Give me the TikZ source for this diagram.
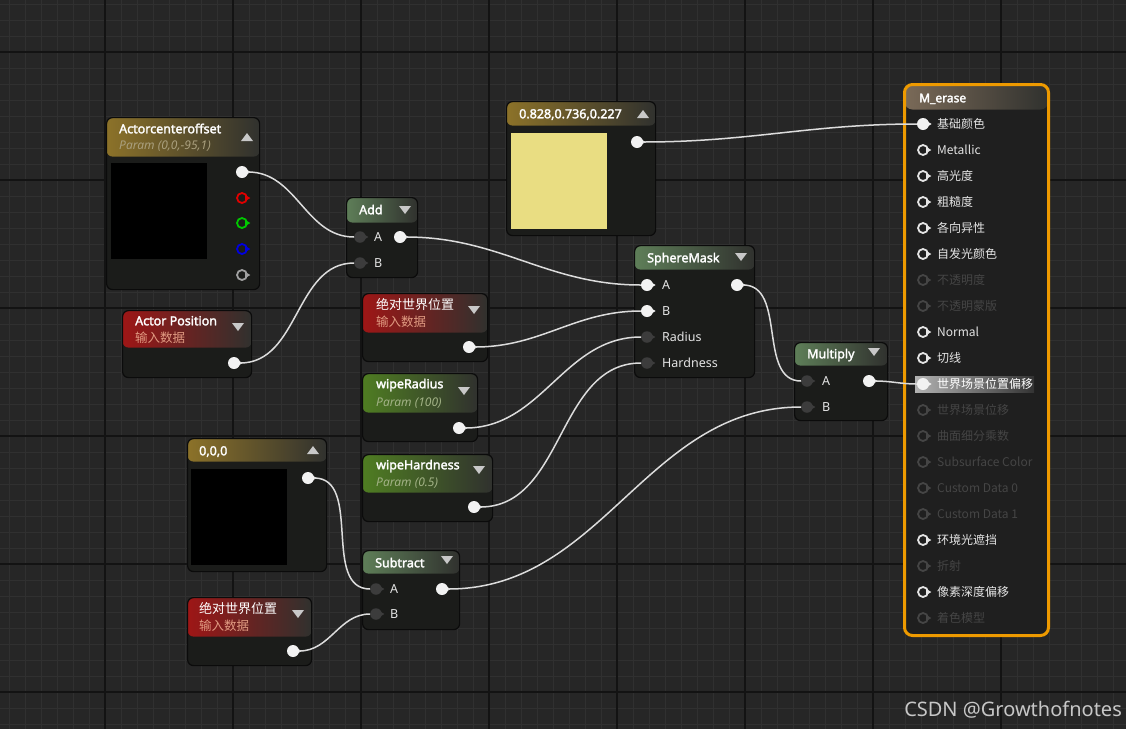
\documentclass[tikz,border=0pt]{standalone}
\usepackage{fontspec}
\setmainfont{Noto Sans}[BoldFont={Noto Sans}, BoldFeatures={FakeBold=2.2}]
\newfontfamily\cjk{Noto Sans CJK SC}
\usepackage{tikz}
\usetikzlibrary{shapes.geometric}

\definecolor{bgc}{HTML}{262626}
\definecolor{gridminor}{HTML}{303030}
\definecolor{gridmajor}{HTML}{131313}
\definecolor{nodebg}{HTML}{1B1C1A}
\definecolor{nodeedge}{HTML}{0B0B0B}
\definecolor{hddark}{HTML}{30312E}
\definecolor{hdgold}{HTML}{8C7229}
\definecolor{hdred}{HTML}{9E1616}
\definecolor{hdop}{HTML}{5E7E58}
\definecolor{hdpar}{HTML}{4F7D22}
\definecolor{hdmat}{HTML}{7A6A58}
\definecolor{goldsub}{HTML}{A99F7D}
\definecolor{redsub}{HTML}{E19B82}
\definecolor{greensub}{HTML}{A2B286}
\definecolor{swatchy}{HTML}{E9DD82}
\definecolor{pinwhite}{HTML}{F2F2F2}
\definecolor{pindark}{HTML}{3C3C3C}
\definecolor{pinred}{HTML}{E00000}
\definecolor{pingreen}{HTML}{00C800}
\definecolor{pinblue}{HTML}{0000E0}
\definecolor{pingrey}{HTML}{A0A0A0}
\definecolor{lbl}{HTML}{E4E4E4}
\definecolor{lbldim}{HTML}{454545}
\definecolor{matorange}{HTML}{EE9A00}
\definecolor{wirec}{HTML}{DCDCDC}
\definecolor{arrowc}{HTML}{C8C8C8}

\begin{document}
\begin{tikzpicture}[x=1pt,y=-1pt,
    minor/.style={draw=gridminor, line width=1pt},
    major/.style={draw=gridmajor, line width=2pt},
    body/.style={draw=nodeedge, fill=nodebg, line width=1.2pt, rounded corners=6pt, anchor=north west, inner sep=0pt},
    hdr/.style 2 args={path picture={\shade[left color=#1, right color=hddark]
        (path picture bounding box.north west) rectangle ([yshift=-#2]path picture bounding box.north east);}},
    swatch/.style={anchor=north west, inner sep=0pt, minimum width=96pt, minimum height=96pt},
    ttl/.style={anchor=west, inner sep=0pt, text height=8.5pt, text depth=0pt, text=white, font=\fontsize{12.5}{14}\selectfont\bfseries},
    ttlc/.style={ttl, font=\cjk\fontsize{13}{15}\selectfont},
    sub/.style={anchor=west, inner sep=0pt, text height=8.5pt, text depth=0pt, text=#1, font=\fontsize{12}{14}\selectfont\itshape},
    subc/.style={anchor=west, inner sep=0pt, text height=8.5pt, text depth=0pt, text=redsub, font=\cjk\fontsize{12.5}{14}\selectfont},
    pl/.style={anchor=west, inner sep=0pt, text height=8.5pt, text depth=0pt, text=lbl, font=\fontsize{12.5}{14}\selectfont},
    matl/.style={pl, text=#1, font=\cjk\fontsize{12}{14}\selectfont},
    tip/.style={regular polygon, regular polygon sides=3, shape border rotate=-90, fill=#1, minimum size=7pt, inner sep=0pt, label distance=-3pt},
    pinw/.style={circle, fill=pinwhite, minimum size=12pt, inner sep=0pt, label={[tip=pinwhite]0:{}}},
    pindk/.style={circle, fill=pindark, minimum size=11.5pt, inner sep=0pt, label={[tip=pindark]0:{}}},
    pinr/.style={circle, draw=#1, line width=1.8pt, minimum size=10pt, inner sep=0pt, label={[tip=#1]0:{}}},
    pinon/.style={pinr=lbl},
    pinoff/.style={pinr=lbldim},
    arr/.style={fill=arrowc},
    wire/.style={color=wirec, line width=1.5pt, out=0, in=180}]

    \useasboundingbox (0,0) rectangle (1126,729);
    % canvas grid
    \fill[bgc] (0,0) rectangle (1126,729);
    \foreach \gx in {9,25,...,1125} \draw[minor] (\gx,0) -- (\gx,729);
    \foreach \gy in {4,20,...,724} \draw[minor] (0,\gy) -- (1126,\gy);
    \foreach \gx in {105,233,...,1125} \draw[major] (\gx,0) -- (\gx,729);
    \foreach \gy in {52,180,...,724} \draw[major] (0,\gy) -- (1126,\gy);

    % Actorcenteroffset
    \node[body, hdr={hdgold}{39pt}, minimum width=153pt, minimum height=172pt] (aco) at (106,117) {};
    \node[ttl] (aco-t) at (119,129) {Actorcenteroffset};
    \node[sub=goldsub] (aco-s) at (119,145) {Param (0,0,-95,1)};
    \fill[arr] (241,141) -- (253,141) -- (247,133) -- cycle;
    \node[swatch, fill=black] (aco-img) at (111,163) {};
    \node[pinw] (aco-o1) at (242,172) {};
    \node[pinr=pinred] (aco-o2) at (242,198) {};
    \node[pinr=pingreen] (aco-o3) at (242,223) {};
    \node[pinr=pinblue] (aco-o4) at (242,249) {};
    \node[pinr=pingrey] (aco-o5) at (242,275) {};

    % Add
    \node[body, hdr={hdop}{25pt}, minimum width=71pt, minimum height=80pt] (add) at (346,197) {};
    \node[ttl] (add-t) at (359,210) {Add};
    \fill[arr] (399,206) -- (411,206) -- (405,214) -- cycle;
    \node[pindk] (add-a) at (360,237) {};
    \node[pindk] (add-b) at (360,263) {};
    \node[pl] (add-la) at (374,237) {A};
    \node[pl] (add-lb) at (374,263) {B};
    \node[pinw] (add-o) at (400,237) {};

    % Actor Position
    \node[body, hdr={hdred}{37pt}, minimum width=129pt, minimum height=67pt] (apos) at (122,310) {};
    \node[ttl] (apos-t) at (135,321) {Actor Position};
    \node[subc] (apos-s) at (135,338) {输入数据};
    \fill[arr] (232,323) -- (244,323) -- (238,331) -- cycle;
    \node[pinw] (apos-o) at (234,363) {};

    % constant colour
    \node[body, hdr={hdgold}{24pt}, minimum width=149pt, minimum height=134pt] (col) at (506,101) {};
    \node[ttl] (col-t) at (519,114) {0.828,0.736,0.227};
    \fill[arr] (637,118) -- (649,118) -- (643,110) -- cycle;
    \node[swatch, fill=swatchy] (col-img) at (511,133) {};
    \node[pinw] (col-o) at (637,142) {};

    % world position, upper
    \node[body, hdr={hdred}{39pt}, minimum width=125pt, minimum height=68pt] (wp1) at (362,293) {};
    \node[ttlc] (wp1-t) at (376,305) {绝对世界位置};
    \node[subc] (wp1-s) at (376,322) {输入数据};
    \fill[arr] (468,306) -- (480,306) -- (474,314) -- cycle;
    \node[pinw] (wp1-o) at (469,347) {};

    % wipeRadius
    \node[body, hdr={hdpar}{39pt}, minimum width=115pt, minimum height=68pt] (wrad) at (362,373) {};
    \node[ttl] (wrad-t) at (376,384) {wipeRadius};
    \node[sub=greensub] (wrad-s) at (376,402) {Param (100)};
    \fill[arr] (458,387) -- (470,387) -- (464,395) -- cycle;
    \node[pinw] (wrad-o) at (459,428) {};

    % wipeHardness
    \node[body, hdr={hdpar}{38pt}, minimum width=130pt, minimum height=67pt] (whard) at (362,454) {};
    \node[ttl] (whard-t) at (376,465) {wipeHardness};
    \node[sub=greensub] (whard-s) at (376,482) {Param (0.5)};
    \fill[arr] (473,466) -- (485,466) -- (479,474) -- cycle;
    \node[pinw] (whard-o) at (474,507) {};

    % 0,0,0
    \node[body, hdr={hdgold}{23pt}, minimum width=139pt, minimum height=133pt] (zero) at (187,438) {};
    \node[ttl] (zero-t) at (199,451) {0,0,0};
    \fill[arr] (307,454) -- (319,454) -- (313,446) -- cycle;
    \node[swatch, fill=black] (zero-img) at (191,469) {};
    \node[pinw] (zero-o) at (308,478) {};

    % Subtract
    \node[body, hdr={hdop}{23pt}, minimum width=97pt, minimum height=79pt] (sub) at (362,550) {};
    \node[ttl] (sub-t) at (375,563) {Subtract};
    \fill[arr] (441,556) -- (453,556) -- (447,564) -- cycle;
    \node[pindk] (sub-a) at (376,589) {};
    \node[pindk] (sub-b) at (376,614) {};
    \node[pl] (sub-la) at (390,589) {A};
    \node[pl] (sub-lb) at (390,614) {B};
    \node[pinw] (sub-o) at (442,589) {};

    % world position, lower
    \node[body, hdr={hdred}{39pt}, minimum width=124pt, minimum height=68pt] (wp2) at (187,597) {};
    \node[ttlc] (wp2-t) at (199,609) {绝对世界位置};
    \node[subc] (wp2-s) at (199,626) {输入数据};
    \fill[arr] (292,610) -- (304,610) -- (298,618) -- cycle;
    \node[pinw] (wp2-o) at (293,651) {};

    % SphereMask
    \node[body, hdr={hdop}{24pt}, minimum width=120pt, minimum height=132pt] (sm) at (634,245) {};
    \node[ttl] (sm-t) at (647,258) {SphereMask};
    \fill[arr] (735,253) -- (747,253) -- (741,261) -- cycle;
    \node[pinw] (sm-a) at (647,285) {};
    \node[pinw] (sm-b) at (647,311) {};
    \node[pindk] (sm-r) at (647,337) {};
    \node[pindk] (sm-h) at (647,363) {};
    \node[pl] (sm-la) at (662,285) {A};
    \node[pl] (sm-lb) at (662,311) {B};
    \node[pl] (sm-lr) at (662,337) {Radius};
    \node[pl] (sm-lh) at (662,363) {Hardness};
    \node[pinw] (sm-o) at (737,285) {};

    % Multiply
    \node[body, hdr={hdop}{23pt}, minimum width=93pt, minimum height=78pt] (mul) at (794,342) {};
    \node[ttl] (mul-t) at (807,354) {Multiply};
    \fill[arr] (868,348) -- (880,348) -- (874,356) -- cycle;
    \node[pindk] (mul-a) at (807,381) {};
    \node[pindk] (mul-b) at (807,407) {};
    \node[pl] (mul-la) at (822,381) {A};
    \node[pl] (mul-lb) at (822,407) {B};
    \node[pinw] (mul-o) at (869,381) {};

    % M_erase
    \node[body, draw=matorange, line width=3pt, rounded corners=8pt, hdr={hdmat}{25pt}, fill=black!88, minimum width=144pt, minimum height=551pt] (mat) at (903,83) {};
    \node[ttl, font=\fontsize{12}{14}\selectfont\bfseries] (mat-t) at (919,98) {M\_erase};
    \shade[left color=black!30, right color=black!80] (915,376) rectangle (1034,392);
    \foreach \txt/\pst/\tc [count=\i] in {基础颜色/pinw/lbl, Metallic/pinon/lbl, 高光度/pinon/lbl,
        粗糙度/pinon/lbl, 各向异性/pinon/lbl, 自发光颜色/pinon/lbl, 不透明度/pinoff/lbldim,
        不透明蒙版/pinoff/lbldim, Normal/pinon/lbl, 切线/pinon/lbl, 世界场景位置偏移/pinw/white,
        世界场景位移/pinoff/lbldim, 曲面细分乘数/pinoff/lbldim, Subsurface Color/pinoff/lbldim,
        Custom Data 0/pinoff/lbldim, Custom Data 1/pinoff/lbldim, 环境光遮挡/pinon/lbl,
        折射/pinoff/lbldim, 像素深度偏移/pinon/lbl, 着色模型/pinoff/lbldim} {
      \node[\pst] (mat-p\i) at (923,98+26*\i) {};
      \node[matl=\tc] (mat-l\i) at (937,98+26*\i) {\txt};
    }

    \node[anchor=base east, inner sep=0pt, text=white!78!black, font=\fontsize{20}{24}\selectfont] (wm) at (1122,716) {CSDN @Growthofnotes};

    \path[wire] (aco-o1)  edge (add-a)
                (apos-o)  edge (add-b)
                (add-o)   edge (sm-a)
                (wp1-o)   edge (sm-b)
                (wrad-o)  edge (sm-r)
                (whard-o) edge (sm-h)
                (zero-o)  edge (sub-a)
                (wp2-o)   edge (sub-b)
                (sub-o)   edge (mul-b)
                (sm-o)    edge (mul-a)
                (mul-o)   edge (mat-p11)
                (col-o)   edge (mat-p1)
                ;
\end{tikzpicture}
\end{document}
